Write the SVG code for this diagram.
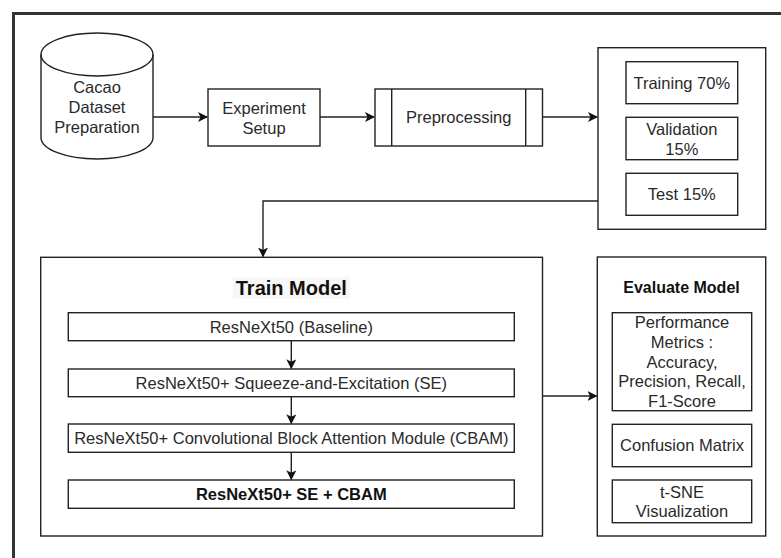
<svg xmlns="http://www.w3.org/2000/svg" width="781" height="558" viewBox="0 0 781 558">
<style>
.box{fill:#fff;stroke:#222;stroke-width:1.4}
.t{font-family:"Liberation Sans",Arial,sans-serif;font-size:16.5px;fill:#2a2a2a;text-anchor:middle}
.b{font-weight:bold;fill:#111}
.c{fill:none;stroke:#222;stroke-width:1.4}
</style>
<defs>
<marker id="ah" viewBox="0 0 10 10" refX="9" refY="5" markerWidth="10" markerHeight="10" markerUnits="userSpaceOnUse" orient="auto">
<path d="M0,0 L10,5 L0,10 L2.5,5 Z" fill="#111"/>
</marker>
</defs>
<rect width="781" height="558" fill="#fff"/>
<rect x="13.5" y="13.5" width="820" height="620" fill="none" stroke="#333" stroke-width="3"/>

<g id="cacao">
<path class="box" d="M41,54.5 A56,21.5 0 0 1 153,54.5 L153,137.5 A56,21.5 0 0 1 41,137.5 Z"/>
<path class="c" d="M41,54.5 A56,21.5 0 0 0 153,54.5"/>
<text class="t" x="97" y="93">Cacao</text>
<text class="t" x="97" y="113">Dataset</text>
<text class="t" x="97" y="133">Preparation</text>
</g>

<g id="setup">
<rect class="box" x="208" y="89" width="112" height="57"/>
<text class="t" x="264" y="114">Experiment</text>
<text class="t" x="264" y="134">Setup</text>
</g>

<g id="preprocessing">
<rect class="box" x="375" y="89" width="167.5" height="57"/>
<line class="c" x1="391.7" y1="89" x2="391.7" y2="146"/>
<line class="c" x1="525.7" y1="89" x2="525.7" y2="146"/>
<text class="t" x="458.7" y="123">Preprocessing</text>
</g>

<g id="split">
<rect class="box" x="598" y="47.7" width="167.7" height="181.6"/>
<rect class="box" x="626" y="61.7" width="111.7" height="42"/>
<text class="t" x="681.8" y="88.5">Training 70%</text>
<rect class="box" x="626" y="117.3" width="111.7" height="42.4"/>
<text class="t" x="681.8" y="134.5">Validation</text>
<text class="t" x="681.8" y="154.5">15%</text>
<rect class="box" x="626" y="173.3" width="111.7" height="42"/>
<text class="t" x="681.8" y="200">Test 15%</text>
</g>

<g id="train">
<rect class="box" x="40.7" y="257.3" width="501.8" height="278.7"/>
<rect x="232.7" y="276.7" width="117.3" height="22.3" fill="#f7f7f7"/>
<text class="t b" x="291.3" y="295" style="font-size:20px">Train Model</text>
<rect class="box" x="68.3" y="312.7" width="446" height="28"/>
<text class="t" x="291.3" y="332.5">ResNeXt50 (Baseline)</text>
<rect class="box" x="68.3" y="369" width="446" height="27.7"/>
<text class="t" x="291.3" y="388.7">ResNeXt50+ Squeeze-and-Excitation (SE)</text>
<rect class="box" x="68.3" y="424" width="446" height="28.3"/>
<text class="t" x="291.3" y="444">ResNeXt50+ Convolutional Block Attention Module (CBAM)</text>
<rect class="box" x="68.3" y="480" width="446" height="28.3"/>
<text class="t b" x="291.3" y="500">ResNeXt50+ SE + CBAM</text>
</g>

<g id="evaluate">
<rect class="box" x="597.3" y="257" width="168.4" height="279"/>
<text class="t b" x="681.5" y="292.5" style="font-size:16px">Evaluate Model</text>
<rect class="box" x="612.3" y="312.7" width="139.4" height="98"/>
<text class="t" x="682" y="328">Performance</text>
<text class="t" x="682" y="347.8">Metrics :</text>
<text class="t" x="682" y="367.6">Accuracy,</text>
<text class="t" x="682" y="387.4">Precision, Recall,</text>
<text class="t" x="682" y="407.2">F1-Score</text>
<rect class="box" x="612.3" y="424.3" width="139.4" height="42.4"/>
<text class="t" x="682" y="451.4">Confusion Matrix</text>
<rect class="box" x="612.3" y="480" width="139.4" height="42.7"/>
<text class="t" x="682" y="497.5">t-SNE</text>
<text class="t" x="682" y="517.3">Visualization</text>
</g>

<g id="connectors">
<path class="c" d="M153,117 L207,117" marker-end="url(#ah)"/>
<path class="c" d="M320,117 L374,117" marker-end="url(#ah)"/>
<path class="c" d="M542.5,117 L597,117" marker-end="url(#ah)"/>
<path class="c" d="M598,201 L263,201 L263,256.5" marker-end="url(#ah)"/>
<path class="c" d="M542.5,396 L596.5,396" marker-end="url(#ah)"/>
<path class="c" d="M291.3,340.7 L291.3,368.3" marker-end="url(#ah)"/>
<path class="c" d="M291.3,396.7 L291.3,423.3" marker-end="url(#ah)"/>
<path class="c" d="M291.3,452.3 L291.3,479.3" marker-end="url(#ah)"/>
</g>
</svg>
